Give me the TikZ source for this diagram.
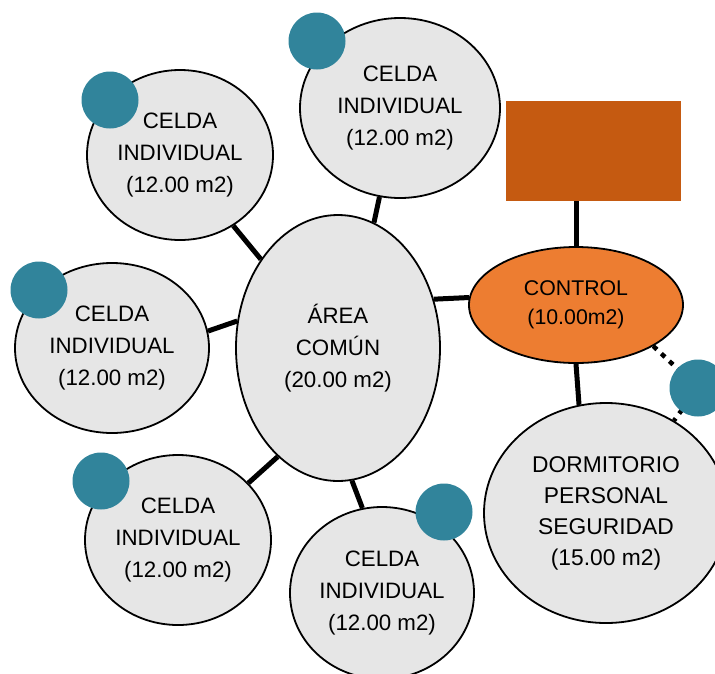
\documentclass[tikz,border=0pt]{standalone}
\usepackage{fontspec}
\setmainfont{Liberation Sans}
\usetikzlibrary{shapes.geometric}
\definecolor{salagris}{HTML}{E6E6E6}
\definecolor{controlnaranja}{HTML}{ED7D31}
\definecolor{cajanaranja}{HTML}{C55A11}
\definecolor{puntoazul}{HTML}{31849B}
\begin{document}
\begin{tikzpicture}[x=1pt,y=-1pt,
	sala/.style={ellipse,draw=black,line width=1.8pt,fill=salagris,inner sep=0pt,align=center,font=\fontsize{22.3}{32}\selectfont},
	enlace/.style={line width=5pt},
	punto/.style={circle,fill=puntoazul,minimum size=57pt,inner sep=0pt}]
	
	\useasboundingbox (0,0) rectangle (715,673);
	
	\node[sala,minimum width=204pt,minimum height=266pt] (area) at (338,348) {ÁREA\\COMÚN\\(20.00 m2)};
	\node[sala,minimum width=186pt,minimum height=170pt] (celdaA) at (180,155) {CELDA\\INDIVIDUAL\\(12.00 m2)};
	\node[sala,minimum width=200pt,minimum height=180pt] (celdaB) at (400,108) {CELDA\\INDIVIDUAL\\(12.00 m2)};
	\node[sala,minimum width=194pt,minimum height=170pt] (celdaC) at (112,348) {CELDA\\INDIVIDUAL\\(12.00 m2)};
	\node[sala,minimum width=186pt,minimum height=170pt] (celdaD) at (178,540) {CELDA\\INDIVIDUAL\\(12.00 m2)};
	\node[sala,minimum width=184pt,minimum height=172pt] (celdaE) at (382,593) {CELDA\\INDIVIDUAL\\(12.00 m2)};
	\node[sala,fill=controlnaranja,minimum width=214pt,minimum height=116pt,font=\fontsize{21.3}{29}\selectfont] (control) at (576,305) {CONTROL\\(10.00m2)};
	\node[sala,minimum width=244pt,minimum height=220pt,font=\fontsize{22.8}{31}\selectfont] (dorm) at (606,513) {DORMITORIO\\PERSONAL\\SEGURIDAD\\(15.00 m2)};
	\node[rectangle,fill=cajanaranja,minimum width=175pt,minimum height=100pt,inner sep=0pt] (caja) at (593.5,151) {};
	
	\draw[enlace] (celdaA.-53) -- (area.131);
	\draw[enlace] (celdaB.-103) -- (area.74);
	\draw[enlace] (celdaC.10) -- (area.165);
	\draw[enlace] (celdaD.39) -- (area.-119);
	\draw[enlace] (celdaE.103) -- (area.-84);
	\draw[enlace] (area.27) -- (control.176);
	\draw[enlace] (control.north) -- (control.north |- caja.south);
	\draw[enlace] (control.south) -- (dorm.104);
	
	\coordinate (dotF) at (698,388);
	\draw[line width=4.5pt,dash pattern=on 5pt off 6pt] (control.-28) -- (dotF) -- (dorm);
	
	\node[punto] (puntoA) at (110,100) {};
	\node[punto] (puntoB) at (317,41) {};
	\node[punto] (puntoC) at (39,290) {};
	\node[punto] (puntoD) at (101,481) {};
	\node[punto] (puntoE) at (444,512) {};
	\node[punto] (puntoF) at (dotF) {};
	\end{tikzpicture}
\end{document}
